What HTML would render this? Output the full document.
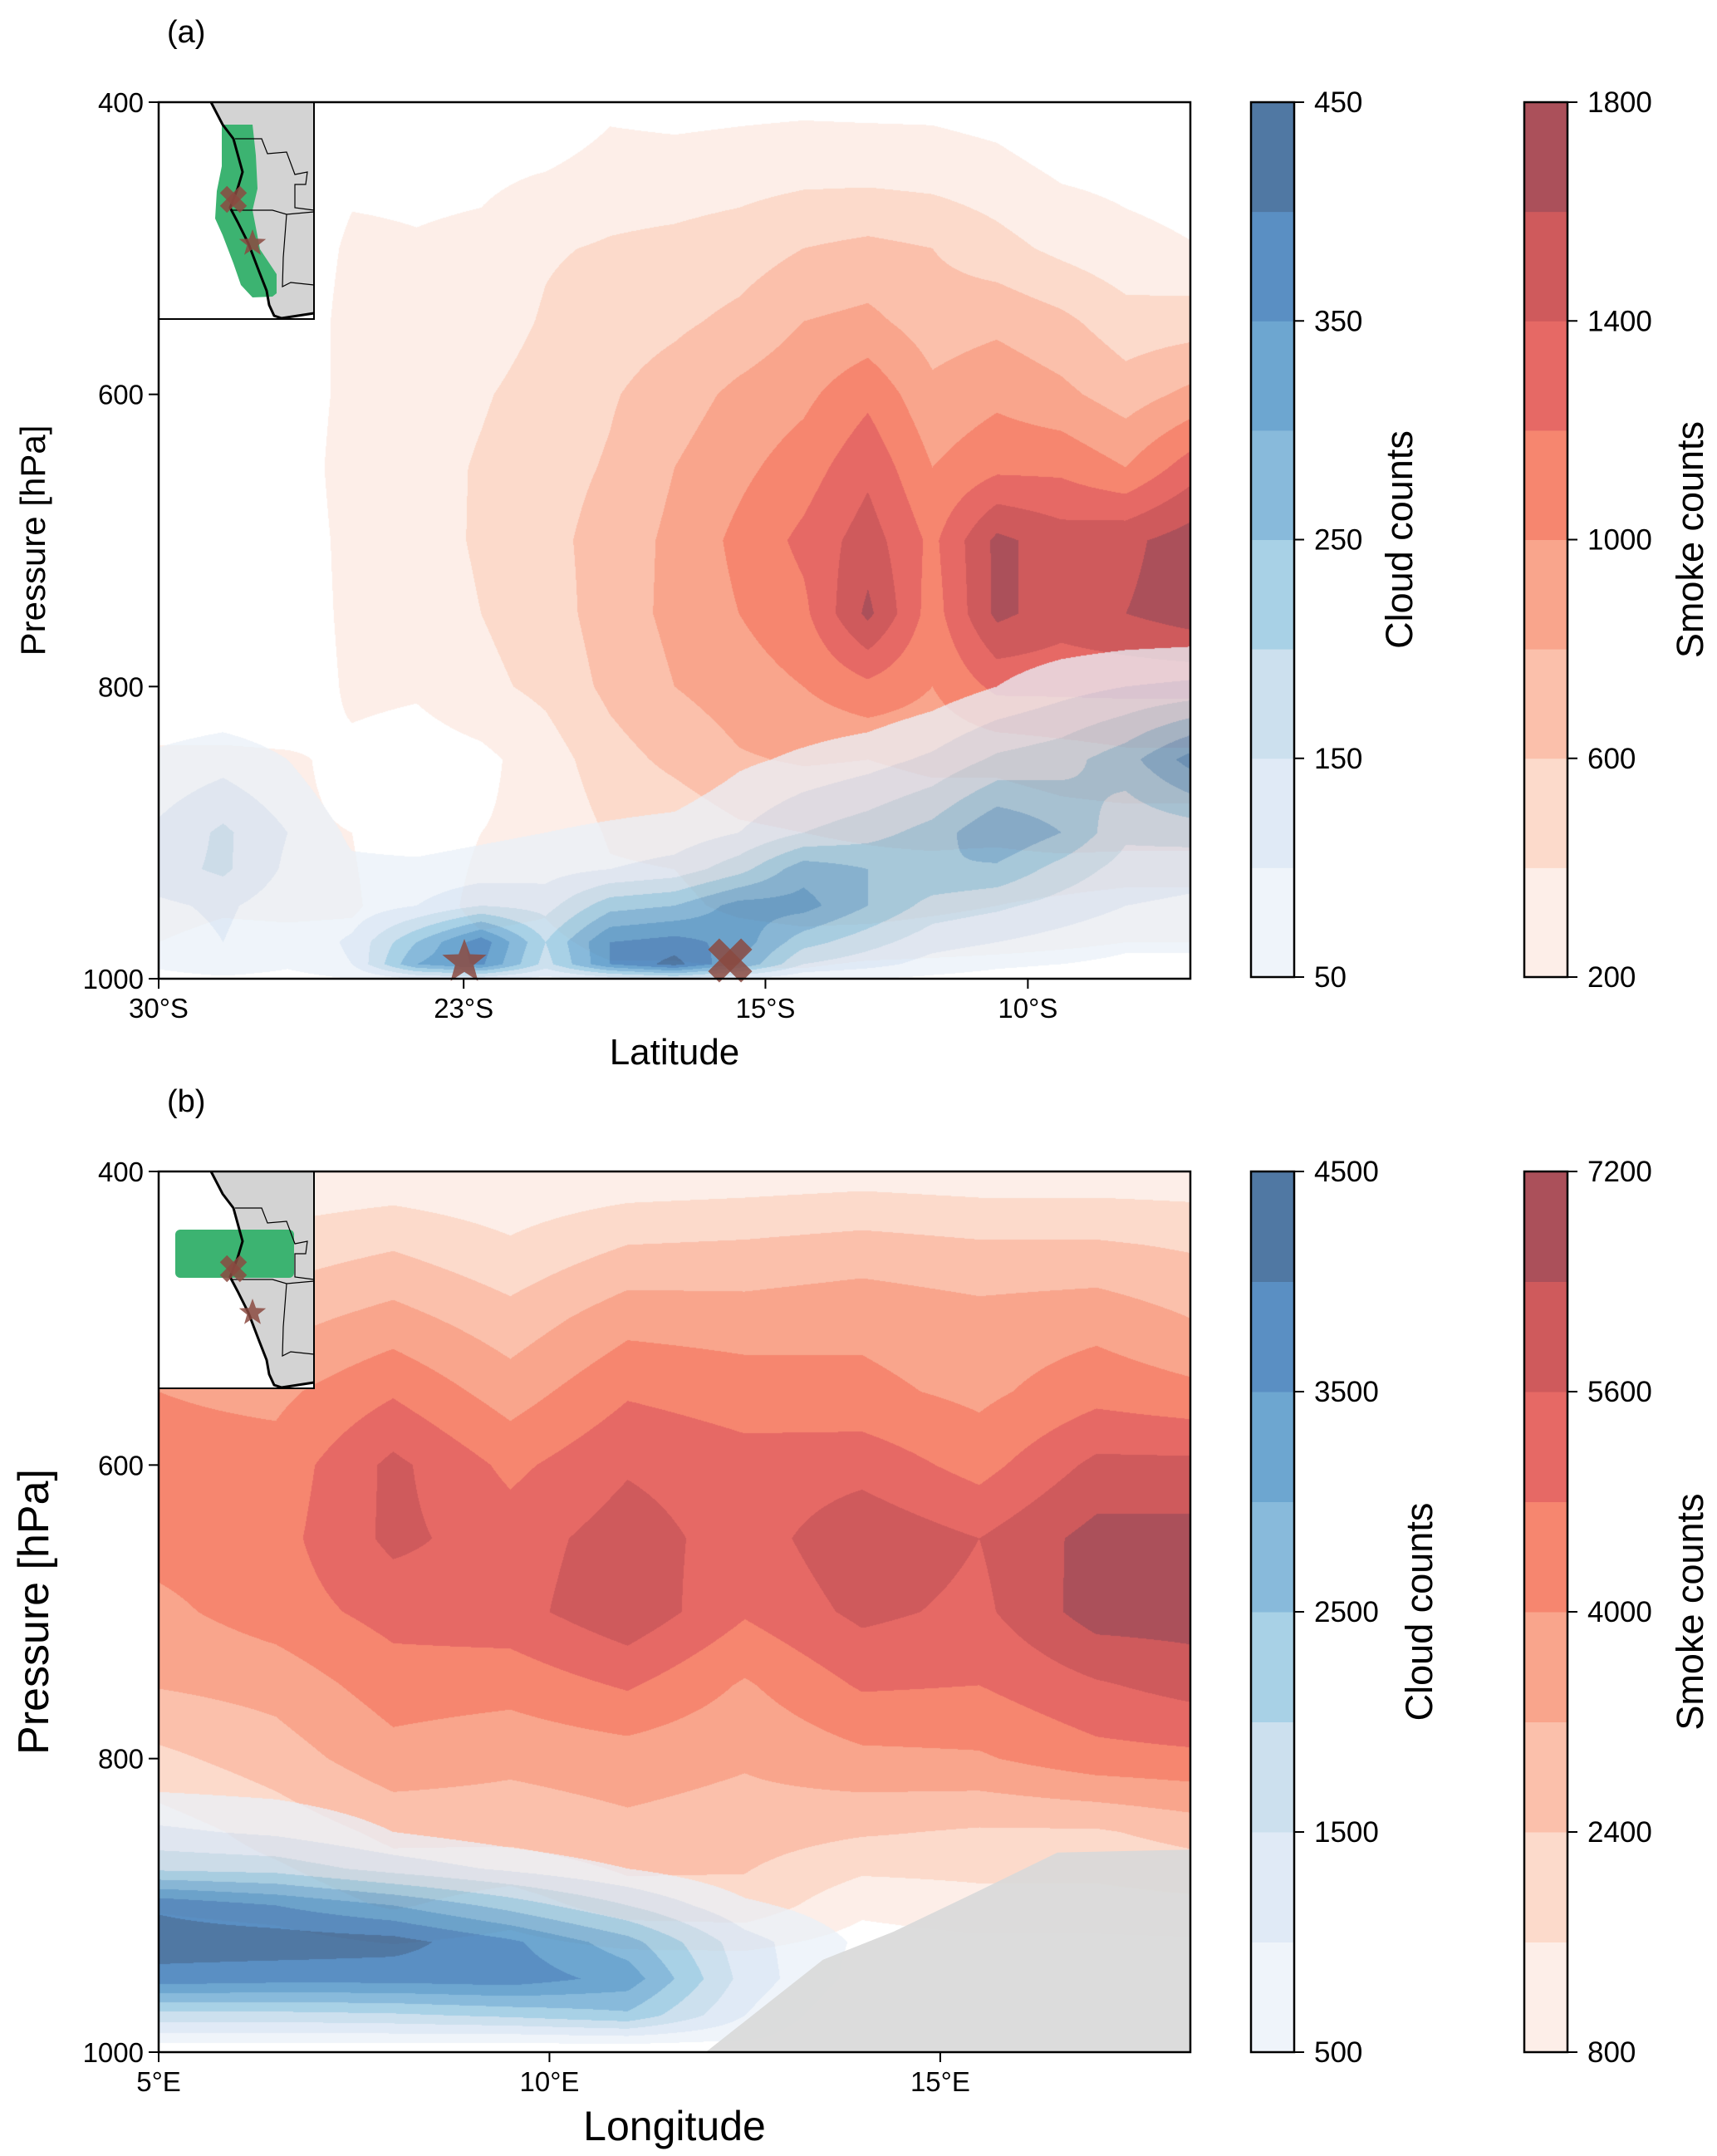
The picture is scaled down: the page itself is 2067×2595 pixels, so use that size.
<!DOCTYPE html>
<html><head><meta charset="utf-8">
<style>
html,body{margin:0;padding:0;background:#fff;}
#root{position:relative;width:2067px;height:2595px;overflow:hidden;font-family:"Liberation Sans",sans-serif;}
canvas{position:absolute;}
svg{position:absolute;left:0;top:0;}
</style></head>
<body>
<div id="root">
<canvas id="cvA" style="left:191px;top:123px" width="1242" height="1055"></canvas>
<canvas id="cvB" style="left:191px;top:1410px" width="1242" height="1060"></canvas>
<svg id="ov" width="2067" height="2595"></svg>
</div>
<script>
// ---------- DATA ----------
const colIndexA = [0,1,2,3,4,5,6,7,8,9,10,11,12,13,14,15,16];
const latTickPos = [0,4.73,9.41,13.48];
const latTickLabels = ["30°S","23°S","15°S","10°S"];
const pressSmokeA = [400,450,500,550,600,650,700,750,800,850,900,950,1000];
const smokeA = [
[0,0,0,0,0,0,0,150,120,140,150,140,140,100,0,0,0],
[0,0,0,150,150,160,210,300,300,320,350,350,330,280,180,150,120],
[0,0,0,250,220,250,380,420,450,500,600,650,600,470,350,260,210],
[0,0,0,300,280,300,420,500,560,650,800,850,700,750,650,480,500],
[0,0,0,300,300,380,480,580,700,850,950,1150,850,950,850,700,850],
[0,0,0,350,320,420,520,620,800,950,1100,1350,1000,1150,1150,1000,1300],
[0,0,0,300,300,430,540,680,850,1050,1250,1500,1150,1650,1500,1550,1700],
[0,0,0,280,270,400,500,700,850,1000,1150,1650,1100,1650,1500,1600,1700],
[0,0,0,250,230,350,450,650,800,900,1000,1150,1000,1250,1250,1250,1250],
[250,250,230,150,100,150,300,520,650,780,820,800,850,850,900,950,950],
[250,250,220,200,100,200,250,420,450,560,600,620,650,650,700,700,700],
[250,220,230,220,100,250,220,350,350,450,500,500,450,400,350,300,300],
[150,100,100,100,100,100,100,150,150,150,150,100,100,100,100,100,100]
];
const pressCloudA = [750,800,850,900,925,950,975,990,1000];
const cloudA = [
[0,0,0,0,0,0,0,0,0,0,0,0,0,0,0,0,0],
[0,0,0,0,0,0,0,0,0,0,0,0,20,50,80,100,110],
[60,80,50,0,0,0,0,0,0,40,60,80,110,160,180,230,320],
[110,160,100,40,30,40,50,60,70,100,150,180,220,300,250,160,170],
[130,160,90,60,60,70,80,100,120,180,280,250,250,240,180,130,120],
[90,110,70,70,100,150,130,230,250,320,320,250,180,160,130,100,90],
[70,100,60,110,250,380,200,350,370,330,220,170,120,100,80,60,60],
[60,90,60,100,300,360,180,350,420,300,150,120,80,60,50,40,40],
[30,40,30,50,100,120,80,120,150,100,60,50,40,30,20,0,0]
];
const lonB = [5,6.5,8,9.5,11,12.5,14,15.5,17,18.2];
const lonTicks = [5,10,15];
const lonTickLabels = ["5°E","10°E","15°E"];
const pressSmokeB = [400,450,500,550,600,650,700,750,800,850,900,950,1000];
const smokeB = [
[850,900,1000,900,1000,1100,1200,1100,1100,1100],
[1900,1900,2300,1700,2400,2500,2700,2500,2500,2300],
[3000,2900,3500,2700,3700,3600,3800,3500,3700,3200],
[4000,3800,4700,3600,4700,4400,4200,3800,4500,4200],
[4300,4300,5800,4600,5500,5100,5300,4500,5800,5800],
[4300,4500,5800,5200,6000,5200,6200,5600,6700,6700],
[3800,4400,5100,5300,6200,4900,5800,5400,6800,6800],
[3250,3500,4400,4300,4900,3900,4900,4800,5500,5900],
[2200,2800,3700,3400,3600,3300,3800,3900,4500,4600],
[1200,1900,2600,2700,3000,2800,2500,2300,2300,2700],
[900,1100,1700,1200,2000,2100,1000,1300,1300,1400],
[0,0,0,0,0,0,0,0,0,0],
[0,0,0,0,0,0,0,0,0,0]
];
const pressCloudB = [800,850,875,900,925,950,975,990,1000];
const cloudB = [
[0,0,0,0,0,0,0,0,0,0],
[1100,900,500,200,0,0,0,0,0,0],
[1900,1800,1300,900,500,100,0,0,0,0],
[3900,3500,3000,2300,1500,600,200,0,0,0],
[4300,4300,4200,3600,2700,1200,400,0,0,0],
[3800,3700,3700,3800,3300,1300,300,0,0,0],
[1800,1800,1900,2100,2400,1000,0,0,0,0],
[800,800,800,800,900,600,0,0,0,0],
[0,0,0,0,0,0,0,0,0,0]
];
const terrainLon = [12.0,13.5,14.4,15.5,16.5,18.2];
const terrainP = [1000,937,918,890,864,862];
const levelsCloudA = [50,100,150,200,250,300,350,400,450];
const levelsSmokeA = [200,400,600,800,1000,1200,1400,1600,1800];
const levelsCloudB = [500,1000,1500,2000,2500,3000,3500,4000,4500];
const levelsSmokeB = [800,1600,2400,3200,4000,4800,5600,6400,7200];
const cbTicksCloudA = [50,150,250,350,450];
const cbTicksSmokeA = [200,600,1000,1400,1800];
const cbTicksCloudB = [500,1500,2500,3500,4500];
const cbTicksSmokeB = [800,2400,4000,5600,7200];

const reds = ['#fdeee8','#fcdacb','#fbc0ab','#f9a58c','#f6866f','#e66965','#cf5a5c','#ab505a'];
const blues = ['#eff4fa','#e0eaf6','#cce0ee','#a8d1e6','#88badb','#6da6d0','#5a8fc3','#5078a3'];

function hex(c){return [parseInt(c.substr(1,2),16),parseInt(c.substr(3,2),16),parseInt(c.substr(5,2),16)];}
const redsRGB = reds.map(hex), bluesRGB = blues.map(hex);

function seg(arr,v){
  if(v<=arr[0]) return [0,0];
  if(v>=arr[arr.length-1]) return [arr.length-2,1];
  for(let i=0;i<arr.length-1;i++){ if(v<=arr[i+1]) return [i,(v-arr[i])/(arr[i+1]-arr[i])]; }
  return [arr.length-2,1];
}
function band(v,levels){
  if(v<levels[0]) return -1;
  let k=0; while(k<levels.length-2 && v>=levels[k+1]) k++;
  return k;
}
function renderPanel(cv, xs, xmin, xmax, smokeP, smoke, lvS, cloudP, cloud, lvC){
  const ctx=cv.getContext('2d'); const w=cv.width,h=cv.height;
  const img=ctx.createImageData(w,h); const d=img.data;
  const xsegs=[]; for(let px=0;px<w;px++){ xsegs.push(seg(xs, xmin+(px+0.5)/w*(xmax-xmin))); }
  for(let py=0;py<h;py++){
    const p=400+(py+0.5)/h*600;
    const sj=seg(smokeP,p);
    const inC = p>=cloudP[0] && p<=cloudP[cloudP.length-1];
    const cj= inC?seg(cloudP,p):null;
    for(let px=0;px<w;px++){
      const [i,fx]=xsegs[px];
      const a=smoke[sj[0]], b=smoke[sj[0]+1];
      const vs=(a[i]*(1-fx)+a[i+1]*fx)*(1-sj[1])+(b[i]*(1-fx)+b[i+1]*fx)*sj[1];
      let r=255,g=255,bl=255;
      const ks=band(vs,lvS);
      if(ks>=0){ [r,g,bl]=redsRGB[ks]; }
      if(inC){
        const ca=cloud[cj[0]], cb=cloud[cj[0]+1];
        const vc=(ca[i]*(1-fx)+ca[i+1]*fx)*(1-cj[1])+(cb[i]*(1-fx)+cb[i+1]*fx)*cj[1];
        const kc=band(vc,lvC);
        if(kc>=0){ const m=bluesRGB[kc]; r=m[0]+0.25*(r-255); g=m[1]+0.25*(g-255); bl=m[2]+0.25*(bl-255); }
      }
      const o=(py*w+px)*4; d[o]=r; d[o+1]=g; d[o+2]=bl; d[o+3]=255;
    }
  }
  ctx.putImageData(img,0,0);
}
renderPanel(document.getElementById('cvA'), colIndexA, 0, 16, pressSmokeA, smokeA, levelsSmokeA, pressCloudA, cloudA, levelsCloudA);
renderPanel(document.getElementById('cvB'), lonB, 5, 18.2, pressSmokeB, smokeB, levelsSmokeB, pressCloudB, cloudB, levelsCloudB);

// ---------- SVG overlay ----------
const NS='http://www.w3.org/2000/svg';
const ov=document.getElementById('ov');
function el(tag,attrs,parent,text){const e=document.createElementNS(NS,tag);for(const k in attrs)e.setAttribute(k,attrs[k]);if(text!==undefined)e.textContent=text;(parent||ov).appendChild(e);return e;}

const PA={x0:191,x1:1433,y0:123,y1:1178,xmin:0,xmax:16};
const PB={x0:191,x1:1433,y0:1410,y1:2470,xmin:5,xmax:18.2};
function sx(P,v){return P.x0+(v-P.xmin)/(P.xmax-P.xmin)*(P.x1-P.x0);}
function sy(P,p){return P.y0+(p-400)/600*(P.y1-P.y0);}

let tpts=terrainLon.map((l,k)=>sx(PB,l)+','+sy(PB,terrainP[k]));
tpts.push(PB.x1+','+PB.y1); tpts.push(sx(PB,terrainLon[0])+','+PB.y1);
const terr=el('polygon',{points:tpts.join(' '),fill:'#d9d9d9','fill-opacity':'0.92'});



function star(cx,cy,R,name){
  let pts=[];for(let k=0;k<10;k++){const r=k%2?R*0.42:R;const a=-Math.PI/2+k*Math.PI/5;pts.push((cx+r*Math.cos(a)).toFixed(1)+','+(cy+r*Math.sin(a)).toFixed(1));}
  const s=el('polygon',{points:pts.join(' '),fill:'#8b4a41','fill-opacity':'0.85'});
  
  
}
function xmark(cx,cy,L,wd,name){
  const g=el('g',{transform:`translate(${cx},${cy})`,fill:'#8b4a41','fill-opacity':'0.85'});
  
  
  el('rect',{x:-L/2,y:-wd/2,width:L,height:wd,transform:'rotate(45)'},g);
  el('rect',{x:-L/2,y:-wd/2,width:L,height:wd,transform:'rotate(-45)'},g);
}
star(559,1158,28,'star-marker');
xmark(879,1156,56,19,'x-marker');

function inset(oy,green,name){
  const g=el('g',{transform:`translate(0,${oy})`});
  
  
  el('rect',{x:191,y:123,width:187,height:261,fill:'#fff'},g);
  el('polygon',{points:'254,123 268,150 281,167 292,207 286,227 277,250 286,267 299,293 312,327 321,350 324,367 330,380 339,383 378,377 378,123',fill:'#d3d3d3'},g);
  if(green==='strip') el('polygon',{points:'267,150 267,200 261,230 259,263 268,283 281,317 290,343 304,358 328,357 333,353 333,330 313,300 304,253 310,227 308,187 304,150',fill:'#3cb371'},g);
  else el('rect',{x:211,y:193,width:143,height:58,rx:6,fill:'#3cb371'},g);
  el('polyline',{points:'283,167 315,167 322,185 345,183 355,210 370,207 368,222 355,222 355,250 378,253',fill:'none',stroke:'#000','stroke-width':1.2},g);
  el('polyline',{points:'280,253 328,253 345,258 378,255',fill:'none',stroke:'#000','stroke-width':1.2},g);
  el('polyline',{points:'345,258 341,310 340,345 350,340 378,343',fill:'none',stroke:'#000','stroke-width':1.2},g);
  el('polyline',{points:'254,123 268,150 281,167 292,207 286,227 277,250 286,267 299,293 312,327 321,350 324,367 330,380 339,383 378,377',fill:'none',stroke:'#000','stroke-width':3},g);
  const xs=el('g',{transform:'translate(281,240)',fill:'#8b4a41','fill-opacity':'0.85'},g);
  el('rect',{x:-17,y:-6,width:34,height:12,transform:'rotate(45)'},xs);
  el('rect',{x:-17,y:-6,width:34,height:12,transform:'rotate(-45)'},xs);
  let pts=[];for(let k=0;k<10;k++){const r=k%2?7:17;const a=-Math.PI/2+k*Math.PI/5;pts.push((304+r*Math.cos(a)).toFixed(1)+','+(293+r*Math.sin(a)).toFixed(1));}
  el('polygon',{points:pts.join(' '),fill:'#8b4a41','fill-opacity':'0.85'},g);
  el('rect',{x:191,y:123,width:187,height:261,fill:'none',stroke:'#000','stroke-width':2},g);
}
inset(0,'strip','inset-map-a');
inset(1287,'box','inset-map-b');

function axes(P, xlabels, xtitle, xtitleSize, ytitleSize, tag, panelLabel, xTickVals){
  const f=el('rect',{x:P.x0,y:P.y0,width:P.x1-P.x0,height:P.y1-P.y0,fill:'none',stroke:'#000','stroke-width':2.5});
  
  
  xTickVals.forEach((v,k)=>{
    const x=sx(P,v);
    el('line',{x1:x,y1:P.y1,x2:x,y2:P.y1+12,stroke:'#000','stroke-width':2});
    const t=el('text',{x:x,y:P.y1+47,'font-size':33,'text-anchor':'middle',fill:'#000'},null,xlabels[k]);
    
    
  });
  [400,600,800,1000].forEach(p=>{
    const y=sy(P,p);
    el('line',{x1:P.x0-12,y1:y,x2:P.x0,y2:y,stroke:'#000','stroke-width':2});
    const t=el('text',{x:P.x0-18,y:y+12,'font-size':33,'text-anchor':'end',fill:'#000'},null,String(p));
    
    
  });
  const xt=el('text',{x:(P.x0+P.x1)/2,y:P.y1+(tag==='a'?103:106),'font-size':xtitleSize,'text-anchor':'middle',fill:'#000'},null,xtitle);
  
  
  const yc=(P.y0+P.y1)/2, yx=tag==='a'?54:58;
  const yt=el('text',{x:yx,y:yc,'font-size':ytitleSize,'text-anchor':'middle',fill:'#000',transform:`rotate(-90 ${yx} ${yc})`},null,'Pressure [hPa]');
  
  
  const pl=el('text',{x:201,y:P.y0-72,'font-size':38,fill:'#000'},null,panelLabel);
  
  
}
axes(PA,latTickLabels,'Latitude',44,42,'a','(a)',latTickPos);
axes(PB,lonTickLabels,'Longitude',50,52,'b','(b)',lonTicks);

function colorbar(x,y0,y1,levels,colors,ticks,title,titleX,name){
  const g=el('g',{});
  
  
  const n=colors.length, lo=levels[0], hi=levels[levels.length-1];
  const yv=v=>y1-(v-lo)/(hi-lo)*(y1-y0);
  for(let k=0;k<n;k++){ el('rect',{x:x,y:yv(levels[k+1]),width:52,height:yv(levels[k])-yv(levels[k+1])+0.5,fill:colors[k]},g); }
  el('rect',{x:x,y:y0,width:52,height:y1-y0,fill:'none',stroke:'#000','stroke-width':2.5},g);
  ticks.forEach(v=>{
    const y=yv(v);
    el('line',{x1:x+52,y1:y,x2:x+64,y2:y,stroke:'#000','stroke-width':2},g);
    el('text',{x:x+76,y:y+12,'font-size':35,fill:'#000'},g,String(v));
  });
  el('text',{x:titleX,y:(y0+y1)/2,'font-size':45,'text-anchor':'middle',fill:'#000',transform:`rotate(-90 ${titleX} ${(y0+y1)/2})`},g,title);
}
colorbar(1506,123,1176,levelsCloudA,blues,cbTicksCloudA,'Cloud counts',1700,'colorbar-cloud-a');
colorbar(1835,123,1176,levelsSmokeA,reds,cbTicksSmokeA,'Smoke counts',2050,'colorbar-smoke-a');
colorbar(1506,1410,2470,levelsCloudB,blues,cbTicksCloudB,'Cloud counts',1724,'colorbar-cloud-b');
colorbar(1835,1410,2470,levelsSmokeB,reds,cbTicksSmokeB,'Smoke counts',2050,'colorbar-smoke-b');
</script>
</body></html>
